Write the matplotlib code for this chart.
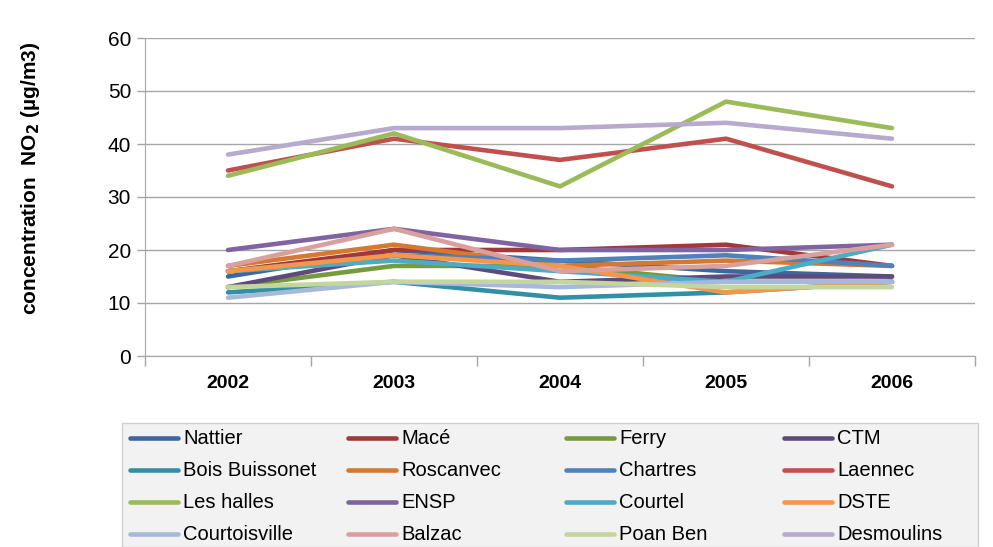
import matplotlib
matplotlib.use("Agg")
import matplotlib.pyplot as plt
from matplotlib.lines import Line2D
from matplotlib.patches import Rectangle

plt.rcParams["font.family"] = ["Liberation Sans", "DejaVu Sans"]

# --- data ---
years = ["2002", "2003", "2004", "2005", "2006"]

stations = [
    "Nattier", "Macé", "Ferry", "CTM",
    "Bois Buissonet", "Roscanvec", "Chartres", "Laennec",
    "Les halles", "ENSP", "Courtel", "DSTE",
    "Courtoisville", "Balzac", "Poan Ben", "Desmoulins",
]

nattier = [15, 20, 18, 16, 15]
mace = [16, 20, 20, 21, 17]
ferry = [13, 17, 17, 14, 14]
ctm = [13, 19, 14, 15, 15]
bois_buissonet = [12, 14, 11, 12, 14]
roscanvec = [17, 21, 17, 18, 17]
chartres = [16, 19, 18, 19, 17]
laennec = [35, 41, 37, 41, 32]
les_halles = [34, 42, 32, 48, 43]
ensp = [20, 24, 20, 20, 21]
courtel = [16, 18, 16, 14, 21]
dste = [16, 19, 17, 12, 14]
courtoisville = [11, 14, 13, 14, 14]
balzac = [17, 24, 16, 17, 21]
poan_ben = [13, 14, 14, 13, 13]
desmoulins = [38, 43, 43, 44, 41]

series = [nattier, mace, ferry, ctm, bois_buissonet, roscanvec, chartres,
          laennec, les_halles, ensp, courtel, dste, courtoisville, balzac,
          poan_ben, desmoulins]

colors = [
    "#3D689E", "#A0393A", "#779A3F", "#5F4A7C",
    "#3290A6", "#D6782E", "#4F81BD", "#C0504D",
    "#9BBB59", "#8064A2", "#4BACC6", "#F79646",
    "#A7B9DA", "#D9A09E", "#C3D69B", "#B8AACC",
]

W, H = 993, 547
fig = plt.figure(figsize=(W / 100, H / 100), dpi=100)
ax = fig.add_axes([145 / W, 1 - 356 / H, 830 / W, 318 / H])

x = list(range(len(years)))
for vals, col in zip(series, colors):
    ax.plot(x, vals, color=col, lw=3.3, solid_capstyle="round",
            solid_joinstyle="round")

ax.set_xlim(-0.5, len(years) - 0.5)
ax.set_ylim(0, 60)
ax.set_yticks(range(0, 61, 10))
ax.yaxis.grid(True, color="#A6A6A6", lw=1.0)
ax.set_axisbelow(True)
ax.tick_params(axis="y", labelsize=15, length=6, color="#A6A6A6",
               width=1.0, pad=4)

# categories centred between tick marks (Excel style)
ax.set_xticks([i - 0.5 for i in range(len(years) + 1)])
ax.set_xticklabels([])
ax.set_xticks(x, minor=True)
ax.set_xticklabels(years, minor=True, fontsize=14, fontweight="bold")
ax.tick_params(axis="x", which="major", length=7, color="#A6A6A6", width=1.0)
ax.tick_params(axis="x", which="minor", length=0, pad=14)

for side in ["top", "right"]:
    ax.spines[side].set_visible(False)
for side in ["left", "bottom"]:
    ax.spines[side].set_color("#A6A6A6")

fig.text(31 / W, 1 - 178 / H, "concentration  NO$_\\mathbf{2}$ (µg/m3)",
         rotation=90, ha="center", va="center", fontsize=15,
         fontweight="bold")

# --- legend box ---
fig.add_artist(Rectangle((122 / W, 0), 856 / W, 1 - 423 / H,
                         transform=fig.transFigure, facecolor="#F2F2F2",
                         edgecolor="#D0D0D0", lw=1.0))
for i, (name, col) in enumerate(zip(stations, colors)):
    row, c = divmod(i, 4)
    lx = (130 + c * 218) / W
    ly = 1 - (438 + row * 32) / H
    fig.add_artist(Line2D([lx, lx + 48 / W], [ly, ly],
                          transform=fig.transFigure, color=col, lw=3.3,
                          solid_capstyle="round"))
    fig.text(lx + 53 / W, ly, name, ha="left", va="center", fontsize=14.5)

fig.savefig("out.png", dpi=100)
